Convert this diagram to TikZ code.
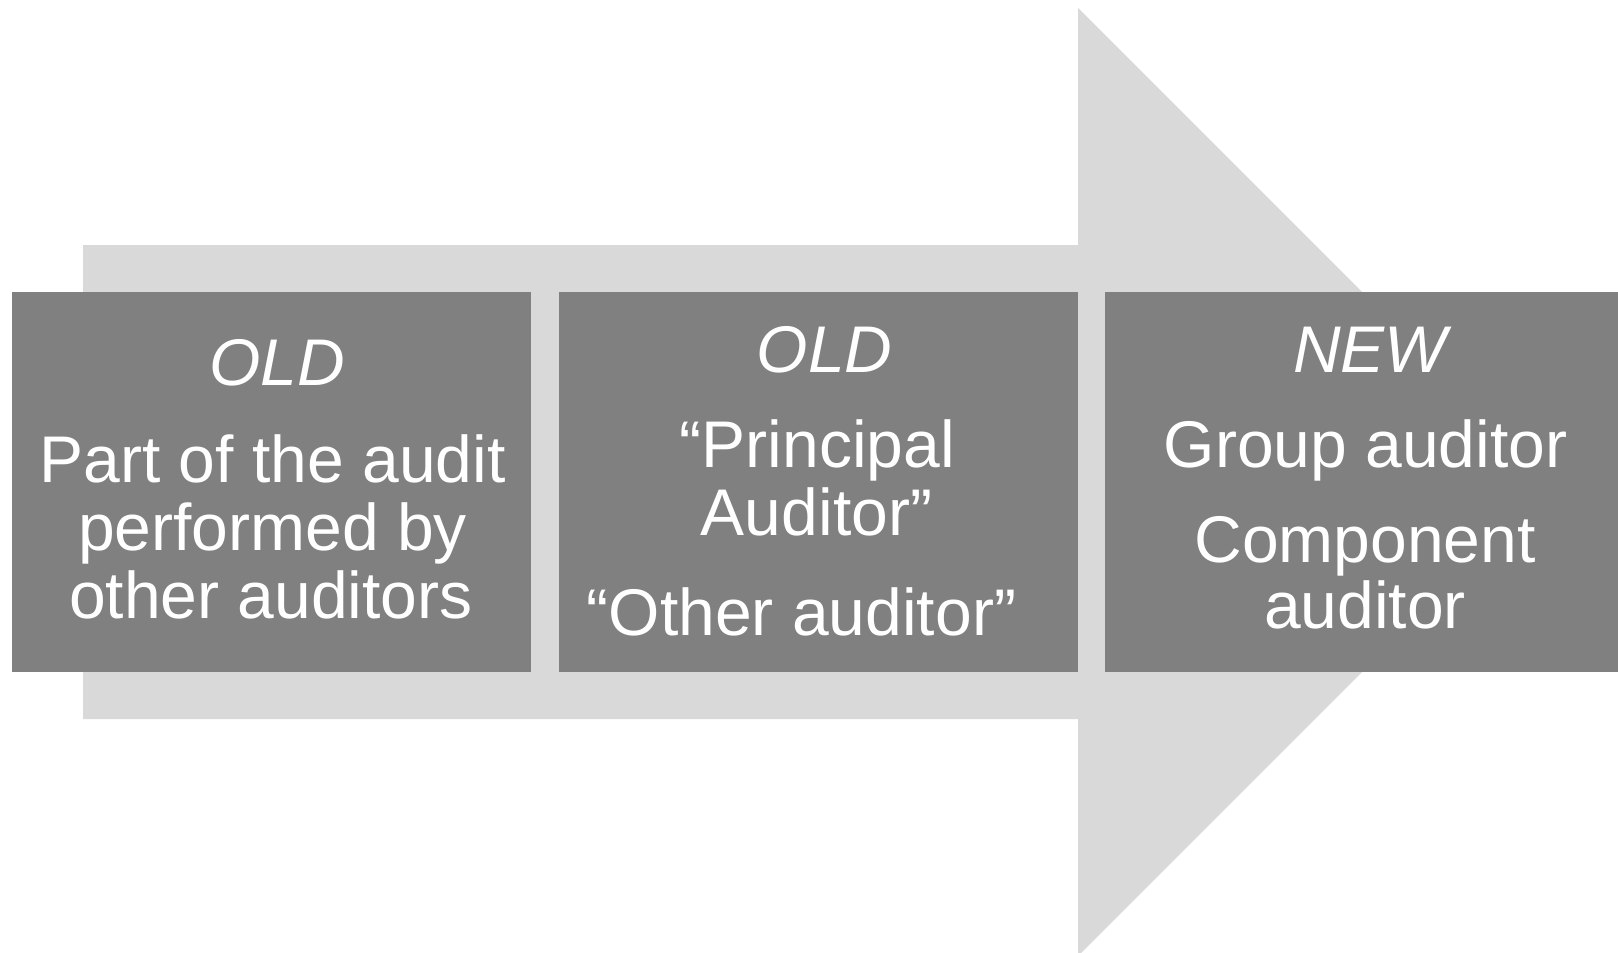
\documentclass[tikz,border=0pt]{standalone}
\usepackage{fontspec}
\setmainfont{Liberation Sans}
\definecolor{shaftgray}{HTML}{D9D9D9}
\definecolor{boxgray}{HTML}{808080}
\begin{document}
\begin{tikzpicture}[x=1pt,y=-1pt,
  stagebox/.style={rectangle, fill=boxgray, draw=none, inner sep=0pt,
    minimum width=519pt, minimum height=380pt},
  label/.style={anchor=base, text=white, inner sep=0pt,
    font=\fontsize{66}{68}\selectfont},
  heading/.style={label, font=\fontsize{66}{68}\selectfont\itshape}]
  \useasboundingbox (0,0) rectangle (1618,953);
  \clip (0,0) rectangle (1618,953);

  % big background arrow
  \fill[shaftgray] (83,245) -- (1078,245) -- (1078,8) -- (1552,482)
    -- (1078,956) -- (1078,719) -- (83,719) -- cycle;

  % three stages
  \node[stagebox] (s1) at (271.5,482) {};
  \node[stagebox] (s2) at (818.5,482) {};
  \node[stagebox] (s3) at (1364.5,482) {};

  % stage 1
  \node[heading] (s1h) at (277.5,385) {OLD};
  \node[label] (s1a) at (272.5,482) {Part of the audit};
  \node[label] (s1b) at (272.5,550) {performed by};
  \node[label] (s1c) at (271,618) {other auditors};

  % stage 2
  \node[heading] (s2h) at (824.5,372) {OLD};
  \node[label] (s2a) at (817.5,467) {“Principal};
  \node[label] (s2b) at (816.5,535) {Auditor”};
  \node[label] (s2c) at (801.5,635) {“Other auditor”};

  % stage 3
  \node[heading] (s3h) at (1370,372) {NEW};
  \node[label] (s3a) at (1365.5,467) {Group auditor};
  \node[label] (s3b) at (1365,562) {Component};
  \node[label] (s3c) at (1365,628) {auditor};
\end{tikzpicture}
\end{document}
